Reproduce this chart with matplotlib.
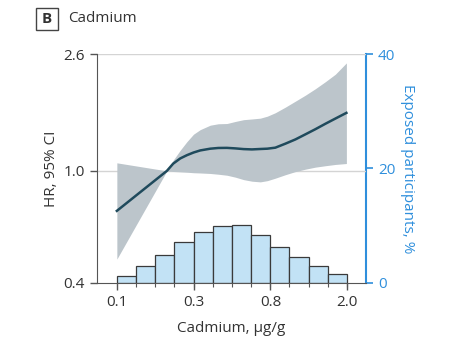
import numpy as np
import matplotlib.pyplot as plt
from matplotlib.patches import FancyBboxPatch
from matplotlib.ticker import NullFormatter

plt.rcParams['font.family'] = ['Open Sans', 'DejaVu Sans']

# Spline curve (cadmium in ug/g, hazard ratio)
cadmium = [0.1000, 0.1919, 0.2083, 0.2283, 0.2491, 0.2715, 0.2962, 0.3375,
           0.3746, 0.4196, 0.4676, 0.5210, 0.5813, 0.6477, 0.7096, 0.7877,
           0.8975, 1.0223, 1.1648, 1.3270, 1.5120, 1.7224, 1.9878]
hr = [0.721, 1.000, 1.061, 1.107, 1.137, 1.162, 1.182, 1.199,
      1.206, 1.207, 1.202, 1.195, 1.192, 1.196, 1.199, 1.209,
      1.249, 1.293, 1.348, 1.406, 1.470, 1.534, 1.607]
hr_upper = [1.068, 1.000, 1.091, 1.184, 1.270, 1.350, 1.401, 1.453,
            1.470, 1.473, 1.498, 1.520, 1.529, 1.539, 1.564, 1.609,
            1.684, 1.768, 1.857, 1.958, 2.074, 2.205, 2.418]
hr_lower = [0.486, 1.000, 0.995, 0.992, 0.989, 0.985, 0.983, 0.979,
            0.973, 0.965, 0.950, 0.931, 0.919, 0.914, 0.923, 0.942,
            0.969, 0.994, 1.014, 1.031, 1.043, 1.054, 1.062]

# Distribution of exposure (% of participants in each bin)
exposed_pct = [1.2, 3.0, 4.8, 7.2, 8.9, 9.9, 10.2, 8.3, 6.2, 4.6, 3.0, 1.6]
bin_edges = np.exp(np.linspace(np.log(0.1), np.log(2.0), len(exposed_pct) + 1))

# Axis tick values and labels
x_tick_values = 0.1 * np.exp(np.arange(4))
x_tick_labels = ['0.1', '0.3', '0.8', '2.0']
y_tick_values = [0.4, 1.0, 2.6]
y_tick_labels = ['0.4', '1.0', '2.6']
pct_ticks = [0, 20, 40]

# Colours
blue = '#2f8fdc'
text_grey = '#333333'
spine_grey = '#555555'
band_color = '#bcc5cb'
line_color = '#1f4a5c'
bar_color = '#c2e2f5'

fig = plt.figure(figsize=(4.57, 3.51), dpi=100)
ax = fig.add_axes([0.212, 0.194, 0.589, 0.652])
ax2 = ax.twinx()
ax.set_zorder(ax2.get_zorder() + 1)
ax.patch.set_visible(False)

# Histogram on the right axis
ax2.bar(bin_edges[:-1], exposed_pct, width=np.diff(bin_edges), align='edge',
        color=bar_color, edgecolor='#3a3a3a', linewidth=0.9)
ax2.set_ylim(0, 40)
ax2.set_yticks(pct_ticks)
ax2.tick_params(axis='y', colors=blue, labelsize=11, length=5, width=1.2)
for s in ['left', 'top', 'bottom']:
    ax2.spines[s].set_visible(False)
ax2.spines['right'].set_color(blue)
ax2.spines['right'].set_linewidth(1.5)
ax2.set_ylabel('Exposed participants, %', color=blue, fontsize=11,
               rotation=270, labelpad=14)

# HR curve with confidence band
ax.fill_between(cadmium, hr_lower, hr_upper, color=band_color, linewidth=0)
ax.plot(cadmium, hr, color=line_color, linewidth=1.8)

ax.set_xscale('log')
ax.set_yscale('log')
ax.set_xlim(0.1 * np.exp(-0.26), 2.0 * np.exp(0.25))
ax.set_ylim(0.4, 2.6)

ax.set_xticks(x_tick_values)
ax.set_xticklabels(x_tick_labels)
ax.set_xticks(bin_edges, minor=True)
ax.xaxis.set_minor_formatter(NullFormatter())
ax.set_yticks(y_tick_values)
ax.set_yticklabels(y_tick_labels)
ax.yaxis.set_minor_formatter(NullFormatter())
ax.tick_params(axis='y', which='minor', length=0)
ax.tick_params(which='major', length=5, width=1, colors=spine_grey,
               labelcolor=text_grey, labelsize=11)
ax.tick_params(axis='x', which='minor', length=3, width=0.8, colors=spine_grey)

for yv in y_tick_values[1:]:
    ax.axhline(yv, color='#d4d4d4', linewidth=1, zorder=0)

ax.spines['top'].set_visible(False)
ax.spines['right'].set_visible(False)
ax.spines['left'].set_color(spine_grey)
ax.spines['bottom'].set_color(spine_grey)

ax.set_xlabel('Cadmium, \u00b5g/g', fontsize=11, color=text_grey, labelpad=8)
ax.set_ylabel('HR, 95% CI', fontsize=11, color=text_grey, labelpad=3)

# Panel label
fig.patches.append(FancyBboxPatch((36 / 457, 1 - 30 / 351), 22 / 457, 22 / 351,
                                  boxstyle='square,pad=0', transform=fig.transFigure,
                                  facecolor='white', edgecolor='#444444', linewidth=1))
fig.text(47 / 457, 1 - 19 / 351, 'B', ha='center', va='center', fontsize=11,
         fontweight='bold', color=text_grey)
fig.text(68 / 457, 1 - 19 / 351, 'Cadmium', ha='left', va='center', fontsize=11,
         color=text_grey)

fig.savefig('out.png', dpi=100)
